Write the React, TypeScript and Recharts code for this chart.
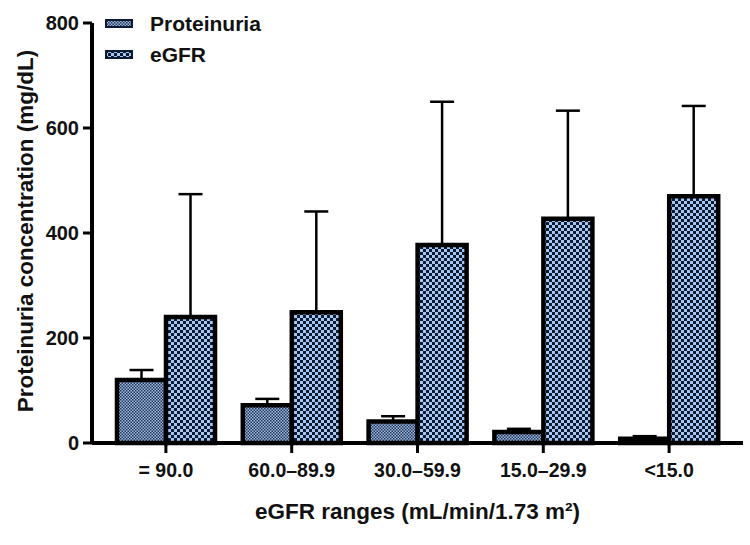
import { Bar, BarChart, ErrorBar, Legend, XAxis, YAxis } from "recharts";

const CATEGORIES = ["= 90.0", "60.0–89.9", "30.0–59.9", "15.0–29.9", "<15.0"];
const PROTEINURIA = [120, 72, 41, 21, 8];
const PROTEINURIA_SD = [19, 12, 10, 6, 5];
const EGFR = [240, 249, 377, 427, 470];
const EGFR_SD = [234, 192, 273, 206, 172];
const Y_TICKS = [0, 200, 400, 600, 800];

const SERIES = [
  { key: "proteinuria", name: "Proteinuria", fill: "url(#protPattern)" },
  { key: "egfr", name: "eGFR", fill: "url(#egfrPattern)" },
];

const data = CATEGORIES.map((category, i) => ({
  category,
  proteinuria: PROTEINURIA[i],
  protErr: [0, PROTEINURIA_SD[i]],
  egfr: EGFR[i],
  egfrErr: [0, EGFR_SD[i]],
}));

const FONT = "'Liberation Sans', Arial, sans-serif";

function Patterns() {
  return (
    <svg width={0} height={0} style={{ position: "absolute" }}>
      <defs>
        <pattern id="protPattern" width={3} height={3} patternUnits="userSpaceOnUse">
          <rect width={3} height={3} fill="#a2bbe2" />
          <rect width={1.5} height={1.5} fill="#1f3456" />
          <rect x={1.5} y={1.5} width={1.5} height={1.5} fill="#1f3456" />
        </pattern>
        <pattern id="egfrPattern" width={6} height={6} patternUnits="userSpaceOnUse">
          <rect width={6} height={6} fill="#a9c6f0" />
          <rect width={3} height={3} fill="#0b1a33" />
          <rect x={3} y={3} width={3} height={3} fill="#0b1a33" />
        </pattern>
      </defs>
    </svg>
  );
}

function ChartLegend() {
  return (
    <div style={{ fontFamily: FONT, fontWeight: 700, fontSize: 21, color: "#111" }}>
      {SERIES.map((s) => (
        <div key={s.key} style={{ display: "flex", alignItems: "center", height: 31 }}>
          <svg width={28} height={9} style={{ marginRight: 17 }}>
            <rect width={28} height={9} fill="#0b1a33" />
            <rect x={2} y={2} width={24} height={5} fill={s.fill} />
          </svg>
          {s.name}
        </div>
      ))}
    </div>
  );
}

export default function App() {
  return (
    <div style={{ position: "absolute", left: 0, top: 0, width: 750, height: 545, background: "#fff" }}>
      <Patterns />
      <BarChart
        width={750}
        height={545}
        data={data}
        margin={{ top: 23, right: 7, left: 0, bottom: 0 }}
        barCategoryGap={14}
        barGap={0}
      >
        <XAxis
          dataKey="category"
          height={102}
          padding={{ left: 11, right: 11 }}
          axisLine={{ stroke: "#000", strokeWidth: 4 }}
          tickLine={{ stroke: "#000", strokeWidth: 3 }}
          tickSize={10}
          tickMargin={10}
          tick={{ fill: "#111", fontSize: 19.5, fontWeight: 700, fontFamily: FONT }}
          label={{
            content: ({ viewBox }: any) => (
              <text
                x={viewBox.x + viewBox.width / 2}
                y={519}
                textAnchor="middle"
                fill="#111"
                fontSize={22.5}
                fontWeight={700}
                fontFamily={FONT}
              >
                eGFR ranges (mL/min/1.73 m²)
              </text>
            ),
          }}
        />
        <YAxis
          width={92}
          domain={[0, 800]}
          ticks={Y_TICKS}
          interval={0}
          axisLine={{ stroke: "#000", strokeWidth: 4 }}
          tickLine={{ stroke: "#000", strokeWidth: 3 }}
          tickSize={9}
          tickMargin={4}
          tick={{ fill: "#111", fontSize: 20, fontWeight: 700, fontFamily: FONT }}
          label={{
            content: () => {
              const cy = 231;
              return (
                <text
                  x={25}
                  y={cy}
                  transform={`rotate(-90, 25, ${cy})`}
                  textAnchor="middle"
                  dominantBaseline="central"
                  fill="#111"
                  fontSize={22.5}
                  fontWeight={700}
                  fontFamily={FONT}
                >
                  Proteinuria concentration (mg/dL)
                </text>
              );
            },
          }}
        />
        <Legend
          layout="vertical"
          align="center"
          verticalAlign="middle"
          content={() => <ChartLegend />}
          wrapperStyle={{ left: 105, top: 8, width: 200, height: 62 }}
        />
        <Bar dataKey="proteinuria" name="Proteinuria" fill={SERIES[0].fill} stroke="#000" strokeWidth={4.5} isAnimationActive={false}>
          <ErrorBar dataKey="protErr" width={12} stroke="#000" strokeWidth={2.5} isAnimationActive={false} />
        </Bar>
        <Bar dataKey="egfr" name="eGFR" fill={SERIES[1].fill} stroke="#000" strokeWidth={4.5} isAnimationActive={false}>
          <ErrorBar dataKey="egfrErr" width={12} stroke="#000" strokeWidth={2.5} isAnimationActive={false} />
        </Bar>
      </BarChart>
    </div>
  );
}
